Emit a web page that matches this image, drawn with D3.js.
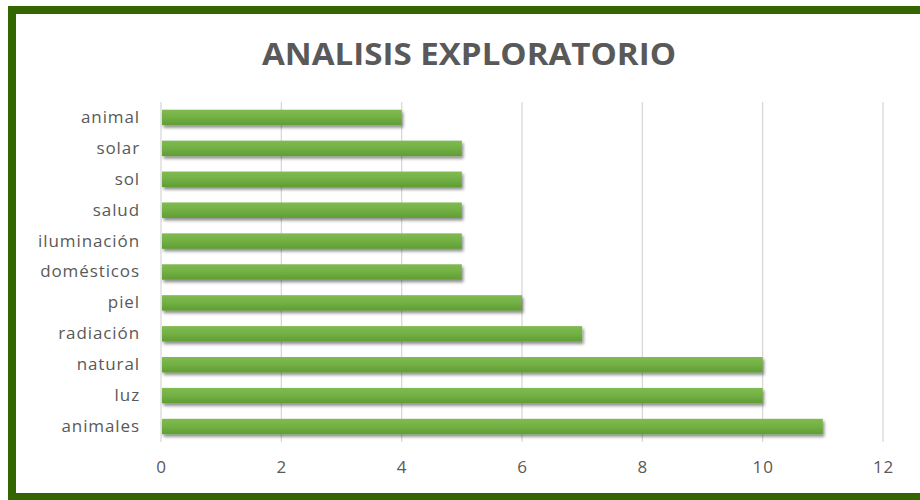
<!DOCTYPE html>
<html><head><meta charset="utf-8">
<script src="https://cdn.jsdelivr.net/npm/d3@7"></script>
<style>html,body{margin:0;padding:0;background:#fff;}svg{display:block;}</style>
</head><body>
<svg id="c" width="920" height="500"></svg>
<script>
const categories = ["animal","solar","sol","salud","iluminación","domésticos","piel","radiación","natural","luz","animales"];
const values = [4,5,5,5,5,5,6,7,10,10,11];
const ticks = [0,2,4,6,8,10,12];
const title = "ANALISIS EXPLORATORIO";

const svg = d3.select("#c");
const defs = svg.append("defs");
const grad = defs.append("linearGradient").attr("id","g").attr("x1",0).attr("y1",0).attr("x2",0).attr("y2",1);
grad.append("stop").attr("offset","0%").attr("stop-color","#80bb52");
grad.append("stop").attr("offset","50%").attr("stop-color","#72b043");
grad.append("stop").attr("offset","100%").attr("stop-color","#5f9d35");
const f = defs.append("filter").attr("id","sh").attr("x","-5%").attr("y","-50%").attr("width","110%").attr("height","250%");
f.append("feDropShadow").attr("dx",1.5).attr("dy",2.5).attr("stdDeviation",1.6).attr("flood-color","#000").attr("flood-opacity",0.45);

// border
svg.append("rect").attr("x",0).attr("y",0).attr("width",920).attr("height",500).attr("fill","#fff");
svg.append("rect").attr("x",12).attr("y",10).attr("width",930).attr("height",487)
  .attr("fill","none").attr("stroke","#336600").attr("stroke-width",8);

const x = d3.scaleLinear().domain([0,12]).range([161,883]);
const y = d3.scaleBand().domain(categories).range([102,442]).paddingInner(0.5).paddingOuter(0.25);

// gridlines
svg.append("g").selectAll("line").data(ticks).join("line")
  .attr("x1",d=>x(d)).attr("x2",d=>x(d)).attr("y1",102).attr("y2",442)
  .attr("stroke","#d9d9d9").attr("stroke-width",1.3);

// title
svg.append("text").attr("x",469).attr("y",65).attr("text-anchor","middle")
  .attr("font-family","Open Sans, sans-serif").attr("font-weight","bold").attr("font-size",30)
  .attr("fill","#595959").attr("textLength",414).attr("lengthAdjust","spacingAndGlyphs").text(title);

// bars
svg.append("g").selectAll("rect").data(categories).join("rect")
  .attr("x",x(0)+1).attr("y",d=>y(d)).attr("height",y.bandwidth())
  .attr("width",(d,i)=>x(values[i])-x(0)-1)
  .attr("fill","url(#g)").attr("filter","url(#sh)");

// y labels
const ya = d3.axisLeft(y).tickSize(0).tickPadding(0);
const yg = svg.append("g").attr("transform","translate(140,0)").call(ya);
yg.select(".domain").remove();
yg.selectAll("text").attr("font-family","Open Sans, sans-serif").attr("font-size",17)
  .attr("letter-spacing","0.9px").attr("fill","#595959");

// x labels
const xa = d3.axisBottom(x).tickValues(ticks).tickSize(0).tickPadding(0);
const xg = svg.append("g").attr("transform","translate(0,461)").call(xa);
xg.select(".domain").remove();
xg.selectAll("text").attr("font-family","Open Sans, sans-serif").attr("font-size",17)
  .attr("letter-spacing","0.9px").attr("fill","#595959");
</script>
</body></html>
